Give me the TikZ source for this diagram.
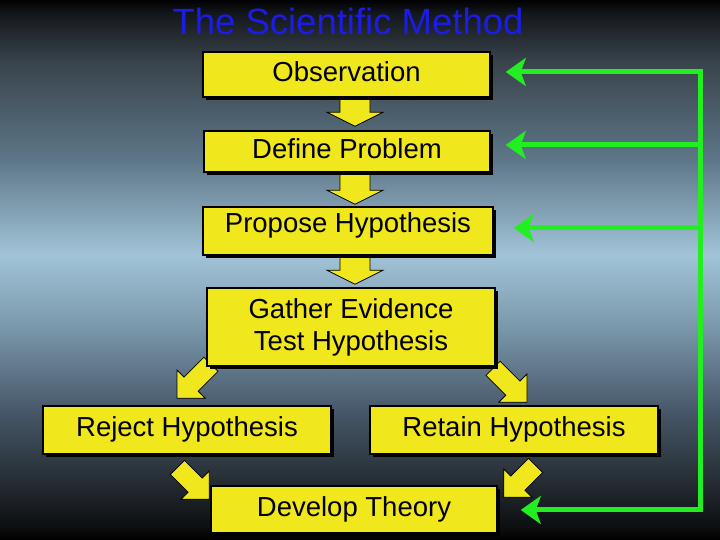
\documentclass[tikz,border=0pt]{standalone}
\usepackage{fontspec}
\setmainfont{Liberation Sans}
\usepackage{tikz}
\usetikzlibrary{arrows.meta,calc,shadows}
\usepackage{xcolor}
\definecolor{boxyellow}{HTML}{F0E81C}
\definecolor{loopgreen}{HTML}{22EE22}
\definecolor{titleblue}{HTML}{1C1CE6}
\definecolor{sky0}{HTML}{000000}
\definecolor{sky1}{HTML}{121518}
\definecolor{sky2}{HTML}{38424A}
\definecolor{sky3}{HTML}{5E7788}
\definecolor{sky4}{HTML}{A2C4D8}
\definecolor{sky5}{HTML}{7896A8}
\definecolor{sky6}{HTML}{48586A}
\definecolor{sky7}{HTML}{262E34}
\definecolor{sky8}{HTML}{0C0E10}
\pgfdeclarelayer{backdrop}
\pgfdeclarelayer{arrowlayer}
\pgfsetlayers{backdrop,arrowlayer,main}
% tip, direction, length, stem half width, head half width, head length
\newcommand{\blockarrow}[6]{%
  \begin{scope}[shift={#1},rotate=#2]
    \filldraw[arrowbody] (0,0) -- (-#6,#5) -- (-#6,#4) -- (-#3,#4) -- (-#3,-#4) -- (-#6,-#4) -- (-#6,-#5) -- cycle;
  \end{scope}}

\begin{document}
\begin{tikzpicture}[x=1pt,y=1pt,
  stepbox/.style={draw=black, line width=1.5pt, fill=boxyellow, inner sep=0pt,
    font=\fontsize{27.5pt}{32pt}\selectfont, text height=20pt, text depth=6pt,
    drop shadow={shadow xshift=3pt,shadow yshift=-3pt,fill=black,opacity=1}},
  arrowbody/.style={fill=boxyellow, draw=black, line width=0.8pt, line join=miter},
  feedback/.style={draw=loopgreen, line width=5pt, line cap=rect,
    -{Stealth[length=20pt,width=28pt,inset=5pt]}}]
  \useasboundingbox (0,0) rectangle (720,540);
  \begin{pgfonlayer}{backdrop}
    \foreach \ya/\yb/\ca/\cb in {0/12/sky0/sky8, 12/60/sky8/sky7, 60/130/sky7/sky6,
        130/210/sky6/sky5, 210/285/sky5/sky4, 285/380/sky4/sky3, 380/480/sky3/sky2,
        480/528/sky2/sky1, 528/540/sky1/sky0}
      \shade[bottom color=\ca, top color=\cb] (0,\ya) rectangle (720,\yb+0.5);
  \end{pgfonlayer}

  \node[font=\fontsize{36.5pt}{40pt}\selectfont, text=titleblue, anchor=base] (title) at (348,505) {The Scientific Method};

  \node[stepbox, minimum width=287pt, minimum height=45pt] (obs) at (346.5,465.5) {Observation};
  \node[stepbox, minimum width=286pt, minimum height=41pt] (def) at (347,388.5) {Define Problem};
  \node[stepbox, minimum width=290pt, minimum height=48pt, text depth=16pt] (prop) at (348,309) {Propose Hypothesis};
  \node[stepbox, minimum width=288pt, minimum height=78pt, align=center, text height={}, text depth={}] (gath) at (351,213) {Gather Evidence\\Test Hypothesis};
  \node[stepbox, minimum width=288pt, minimum height=48pt] (rej) at (187,110) {Reject Hypothesis};
  \node[stepbox, minimum width=288pt, minimum height=48pt] (ret) at (514,110) {Retain Hypothesis};
  \node[stepbox, minimum width=286pt, minimum height=47pt] (dev) at (354,30.5) {Develop Theory};

  % yellow block arrows sit under the boxes
  \begin{pgfonlayer}{arrowlayer}
    \blockarrow{($(def.north)+(8,4)$)}{-90}{30}{15}{28}{14}
    \blockarrow{($(prop.north)+(7,2)$)}{-90}{33}{15}{28}{14}
    \blockarrow{($(gath.north)+(4,3)$)}{-90}{30}{15}{28}{14}
    \blockarrow{($(rej.north)+(-10,7)$)}{225}{48}{10}{20}{20}
    \blockarrow{($(ret.north)+(13,3)$)}{-45}{48}{10}{20}{20}
    \blockarrow{($(dev.north west)+(-1,-14)$)}{-45}{45}{10}{20}{20}
    \blockarrow{($(dev.north east)+(6,-12)$)}{225}{45}{10}{20}{20}
  \end{pgfonlayer}

  % feedback loop
  \coordinate (fbobs) at (700,468);
  \coordinate (fbdef) at (700,395);
  \coordinate (fbprop) at (700,312);
  \coordinate (fbdev) at (700,30);
  \draw[feedback, shorten >=15pt] (fbdev) -- (fbobs) -- (fbobs -| obs.east);
  \draw[feedback, shorten >=15pt] (fbdef) -- (fbdef -| def.east);
  \draw[feedback, shorten >=20pt] (fbprop) -- (fbprop -| prop.east);
  \draw[feedback, shorten >=23pt] (fbdev) -- (fbdev -| dev.east);
\end{tikzpicture}
\end{document}
